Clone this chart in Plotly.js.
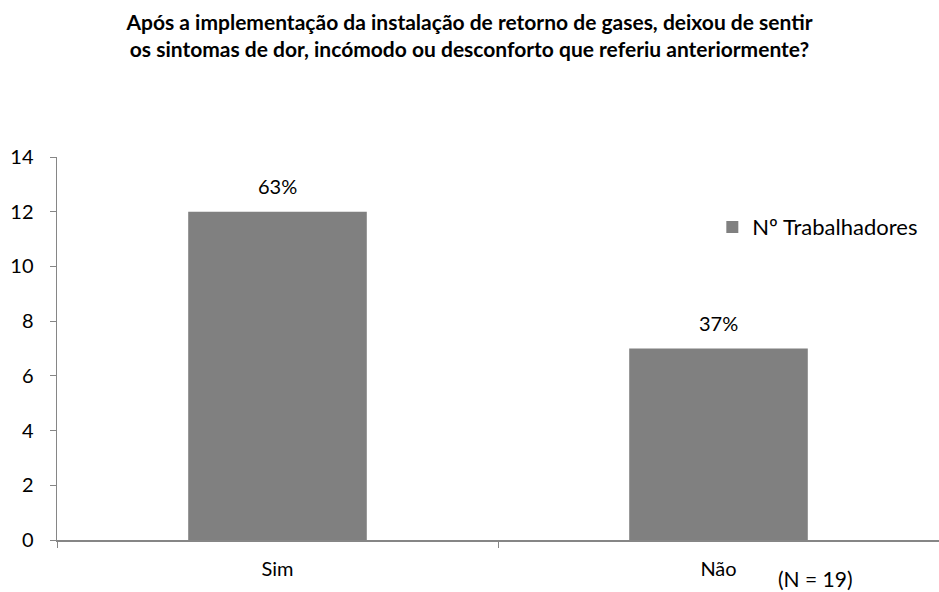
<!DOCTYPE html>
<html><head><meta charset="utf-8">
<script src="https://cdn.plot.ly/plotly-3.0.1.min.js"></script>
<style>body{margin:0;}#c{width:939px;height:592px;}</style>
</head><body><div id="c"></div>
<script>
const categories = ["Sim", "Não"];
const workers = [12, 7];
const percentLabels = ["63%", "37%"];
const yTicks = [0, 2, 4, 6, 8, 10, 12, 14];
const seriesName = "Nº Trabalhadores";
const titleText = "Após a implementação da instalação de retorno de gases, deixou de sentir<br>os sintomas de dor, incómodo ou desconforto que referiu anteriormente?";
const noteText = "(N = 19)";

const FONT = "Lato, 'Open Sans', sans-serif";
const axisColor = "#868686";
const FS = 20;

const trace = {
  type: "bar",
  x: categories,
  y: workers,
  name: seriesName,
  marker: {color: "#808080"},
  width: 0.405,
  showlegend: true
};

const labelAnns = categories.map((c, i) => ({
  x: c, y: workers[i], xref: "x", yref: "y",
  text: percentLabels[i], showarrow: false,
  yanchor: "bottom", yshift: 12,
  font: {family: FONT, size: FS, color: "#000"}
}));

const layout = {
  width: 939, height: 592,
  margin: {l: 57, r: 0, t: 157, b: 52},
  paper_bgcolor: "#fff", plot_bgcolor: "#fff",
  font: {family: FONT, size: FS, color: "#000"},
  title: {
    text: titleText,
    font: {family: FONT, size: 21, color: "#000", weight: "bold"},
    x: 0.5, xref: "container", xanchor: "center",
    y: 0.95, yref: "container", yanchor: "middle"
  },
  xaxis: {
    type: "category",
    range: [-0.5, 1.5],
    showline: true, linecolor: axisColor, linewidth: 1.5,
    ticks: "outside", tickson: "boundaries", ticklen: 6, tickcolor: axisColor,
    ticklabelstandoff: 10,
    tickfont: {family: FONT, size: FS, color: "#000"},
    showgrid: false, zeroline: false
  },
  yaxis: {
    range: [0, 14],
    tickvals: yTicks,
    showline: true, linecolor: axisColor, linewidth: 1.5,
    ticks: "outside", ticklen: 6, tickcolor: axisColor,
    ticklabelstandoff: 12,
    tickfont: {family: FONT, size: FS, color: "#000"},
    showgrid: false, zeroline: false
  },
  legend: {
    x: 0.743, y: 0.817, xanchor: "left", yanchor: "middle",
    font: {family: FONT, size: 22, color: "#000"},
    bgcolor: "rgba(0,0,0,0)"
  },
  annotations: labelAnns.concat([{
    text: noteText, showarrow: false,
    xref: "paper", yref: "paper",
    x: 0.86, y: -0.1, xanchor: "center", yanchor: "middle",
    font: {family: FONT, size: 21, color: "#000"}
  }])
};

Plotly.newPlot("c", [trace], layout, {displayModeBar: false, staticPlot: true});
</script>
</body></html>
